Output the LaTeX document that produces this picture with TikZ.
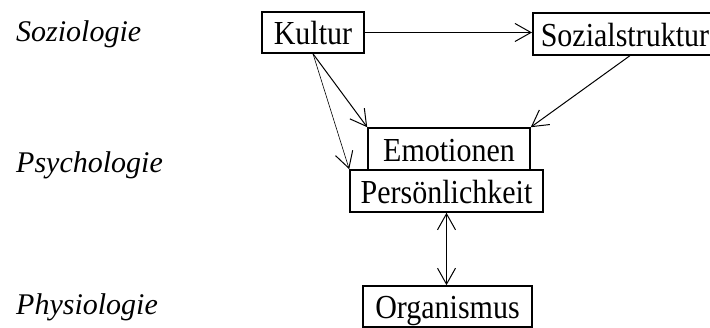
\documentclass[tikz,border=0pt]{standalone}
\usepackage{fontspec}
\setmainfont{Liberation Serif}
\usetikzlibrary{arrows.meta}
\newcommand{\tallt}[1]{\scalebox{1}[1.12]{#1}}
\begin{document}
\begin{tikzpicture}[x=1pt,y=-1pt,
  box/.style={draw, line width=1.6pt, inner sep=0pt, minimum width=#1, minimum height=41pt,
    font=\fontsize{30}{36}\selectfont, text height=25pt, text depth=0pt},
  lvl/.style={anchor=base west, inner sep=0pt, font=\fontsize{30}{36}\selectfont\itshape},
  arr/.style={line width=1pt, -{Straight Barb[length=16pt,width=18pt,line width=1pt]}},
  darr/.style={line width=1pt, {Straight Barb[length=16pt,width=18pt,line width=1pt]}-{Straight Barb[length=16pt,width=18pt,line width=1pt]}}
]
\useasboundingbox (0,0) rectangle (710,328);
\clip (0,0) rectangle (710,328);
\node[lvl] (soz) at (16,42) {Soziologie};
\node[lvl] (psy) at (16,173) {Psychologie};
\node[lvl] (phy) at (16,315) {Physiologie};
\node[box=102pt] (kul) at (313,32.5) {\tallt{Kultur}};
\node[box=190pt, minimum height=42pt, anchor=west, align=left, text width=178pt, inner xsep=8pt] (sst) at (532,34) {\tallt{Sozialstruktur}};
\node[box=162pt, minimum height=42pt] (emo) at (449,149) {\tallt{Emotionen}};
\node[box=193pt, minimum height=42pt] (per) at (446.5,191) {\tallt{Persönlichkeit}};
\node[box=169pt] (org) at (447.5,306.5) {\tallt{Organismus}};
\draw[arr] (kul.east) -- (kul.east -| sst.west);
\draw[arr] (kul.south) -- (emo.north west);
\draw[arr, line width=0.6pt] (kul.south) -- (per.north west);
\draw[arr] (sst.south) -- (emo.north east);
\draw[darr] (per.south) -- (per.south |- org.north);
\end{tikzpicture}
\end{document}
